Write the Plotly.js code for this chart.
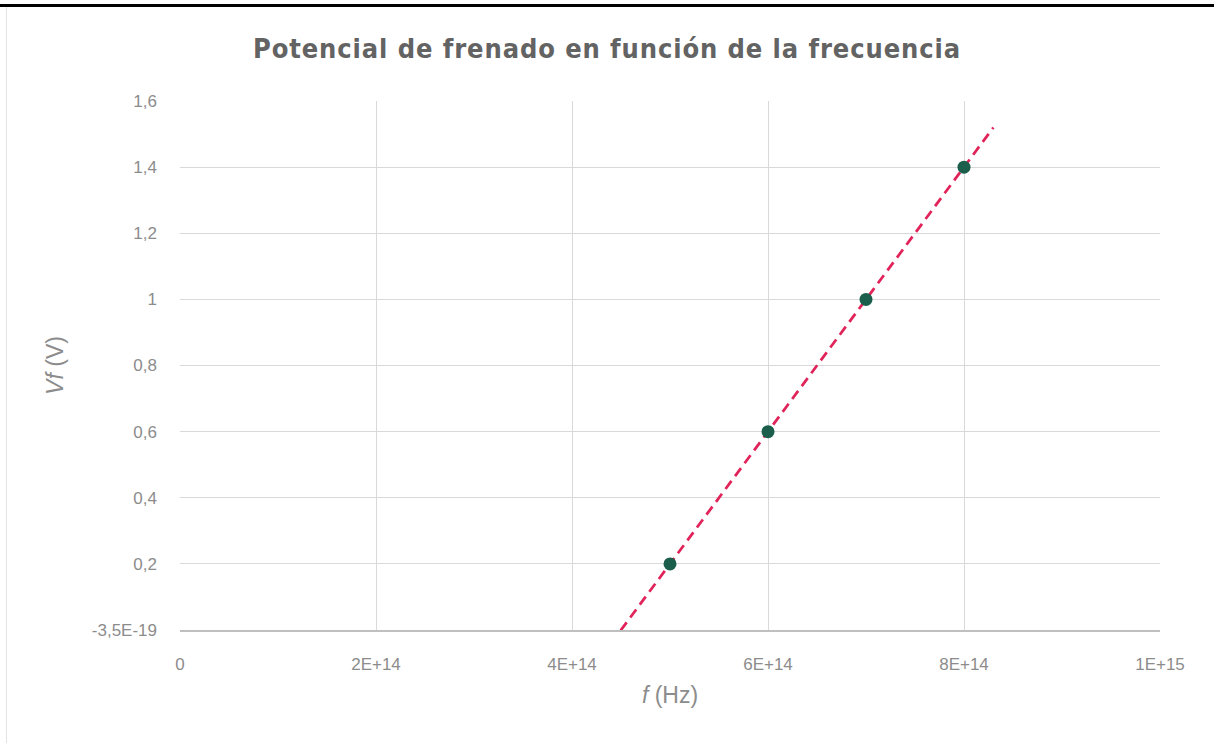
<!DOCTYPE html>
<html>
<head>
<meta charset="utf-8">
<script src="https://cdn.plot.ly/plotly-3.0.1.min.js"></script>
<style>
  html, body { margin: 0; padding: 0; background: #ffffff; }
  #wrap { position: relative; width: 1214px; height: 743px; overflow: hidden; }
  #bar { position: absolute; left: 0; top: 4px; width: 1214px; height: 3px; background: #000; z-index: 2; }
  #frame { position: absolute; left: 6px; top: 7px; width: 1192px; height: 740px; border-left: 1px solid #e3e3e3; z-index: 2; pointer-events: none; }
  #chart { position: absolute; left: 0; top: 0; width: 1214px; height: 743px; }
  #chart .gtitle { letter-spacing: 0.9px; }
</style>
</head>
<body>
<div id="wrap">
  <div id="chart"></div>
  <div id="bar"></div>
  <div id="frame"></div>
</div>
<script>
// Data
const frequency = [5e14, 6e14, 7e14, 8e14];       // f (Hz)
const stoppingPotential = [0.2, 0.6, 1.0, 1.4];    // Vf (V)

// Axis ticks
const xTickVals = [0, 2e14, 4e14, 6e14, 8e14, 1e15];
const xTickText = ["0", "2E+14", "4E+14", "6E+14", "8E+14", "1E+15"];
const yTickVals = [-3.5e-19, 0.2, 0.4, 0.6, 0.8, 1.0, 1.2, 1.4, 1.6];
const yTickText = ["-3,5E-19", "0,2", "0,4", "0,6", "0,8", "1", "1,2", "1,4", "1,6"];

// Trendline forecast (Hz)
const forecastBackward = 0.6e14;
const forecastForward = 0.3e14;

// Linear least-squares fit
function linearFit(xs, ys) {
  const n = xs.length;
  const mx = xs.reduce((a, b) => a + b, 0) / n;
  const my = ys.reduce((a, b) => a + b, 0) / n;
  let sxy = 0, sxx = 0;
  for (let i = 0; i < n; i++) { sxy += (xs[i] - mx) * (ys[i] - my); sxx += (xs[i] - mx) ** 2; }
  const m = sxy / sxx;
  return { m: m, b: my - m * mx };
}
const fit = linearFit(frequency, stoppingPotential);
const xStart = Math.min(...frequency) - forecastBackward;
const xEnd = Math.max(...frequency) + forecastForward;
const trendX = [xStart, xEnd];
const trendY = trendX.map(x => fit.m * x + fit.b);

const tickFont = { family: 'Liberation Sans, Arial, sans-serif', size: 17, color: '#8c8c8c' };
const axisTitleFont = { family: 'Liberation Sans, Arial, sans-serif', size: 23, color: '#8c8c8c' };

const traces = [
  {
    x: trendX, y: trendY, type: 'scatter', mode: 'lines',
    line: { color: '#e0245a', width: 2.75, dash: '10px,6px' },
    hoverinfo: 'skip', showlegend: false
  },
  {
    x: frequency, y: stoppingPotential, type: 'scatter', mode: 'markers',
    marker: { color: '#1b5e4b', size: 13 },
    showlegend: false
  }
];

const layout = {
  width: 1214, height: 743,
  paper_bgcolor: '#ffffff', plot_bgcolor: '#ffffff',
  margin: { l: 180, r: 54, t: 101, b: 113 },
  showlegend: false,
  title: {
    text: 'Potencial de frenado en función de la frecuencia',
    font: { family: 'DejaVu Sans Condensed, Liberation Sans Narrow, sans-serif', size: 27, weight: 600, color: '#636363' },
    x: 0.5, xanchor: 'center', y: 0.935, yanchor: 'middle'
  },
  xaxis: {
    range: [0, 1e15],
    tickvals: xTickVals, ticktext: xTickText,
    showgrid: true, gridcolor: '#d9d9d9', gridwidth: 1,
    zeroline: false,
    showline: true, linecolor: '#bfbfbf', linewidth: 1.5,
    ticks: '', ticklen: 0,
    ticklabelstandoff: 18,
    tickfont: tickFont,
    title: { text: '<i>f</i> (Hz)', standoff: 14, font: axisTitleFont }
  },
  yaxis: {
    range: [-3.5e-19, 1.6],
    tickvals: yTickVals, ticktext: yTickText,
    showgrid: true, gridcolor: '#d9d9d9', gridwidth: 1,
    zeroline: false,
    showline: false,
    ticks: '', ticklen: 0,
    ticklabelstandoff: 22,
    tickfont: tickFont,
    title: { text: '<i>Vf</i> (V)', standoff: 21, font: axisTitleFont }
  }
};

Plotly.newPlot('chart', traces, layout, { displayModeBar: false, staticPlot: true });
</script>
</body>
</html>
